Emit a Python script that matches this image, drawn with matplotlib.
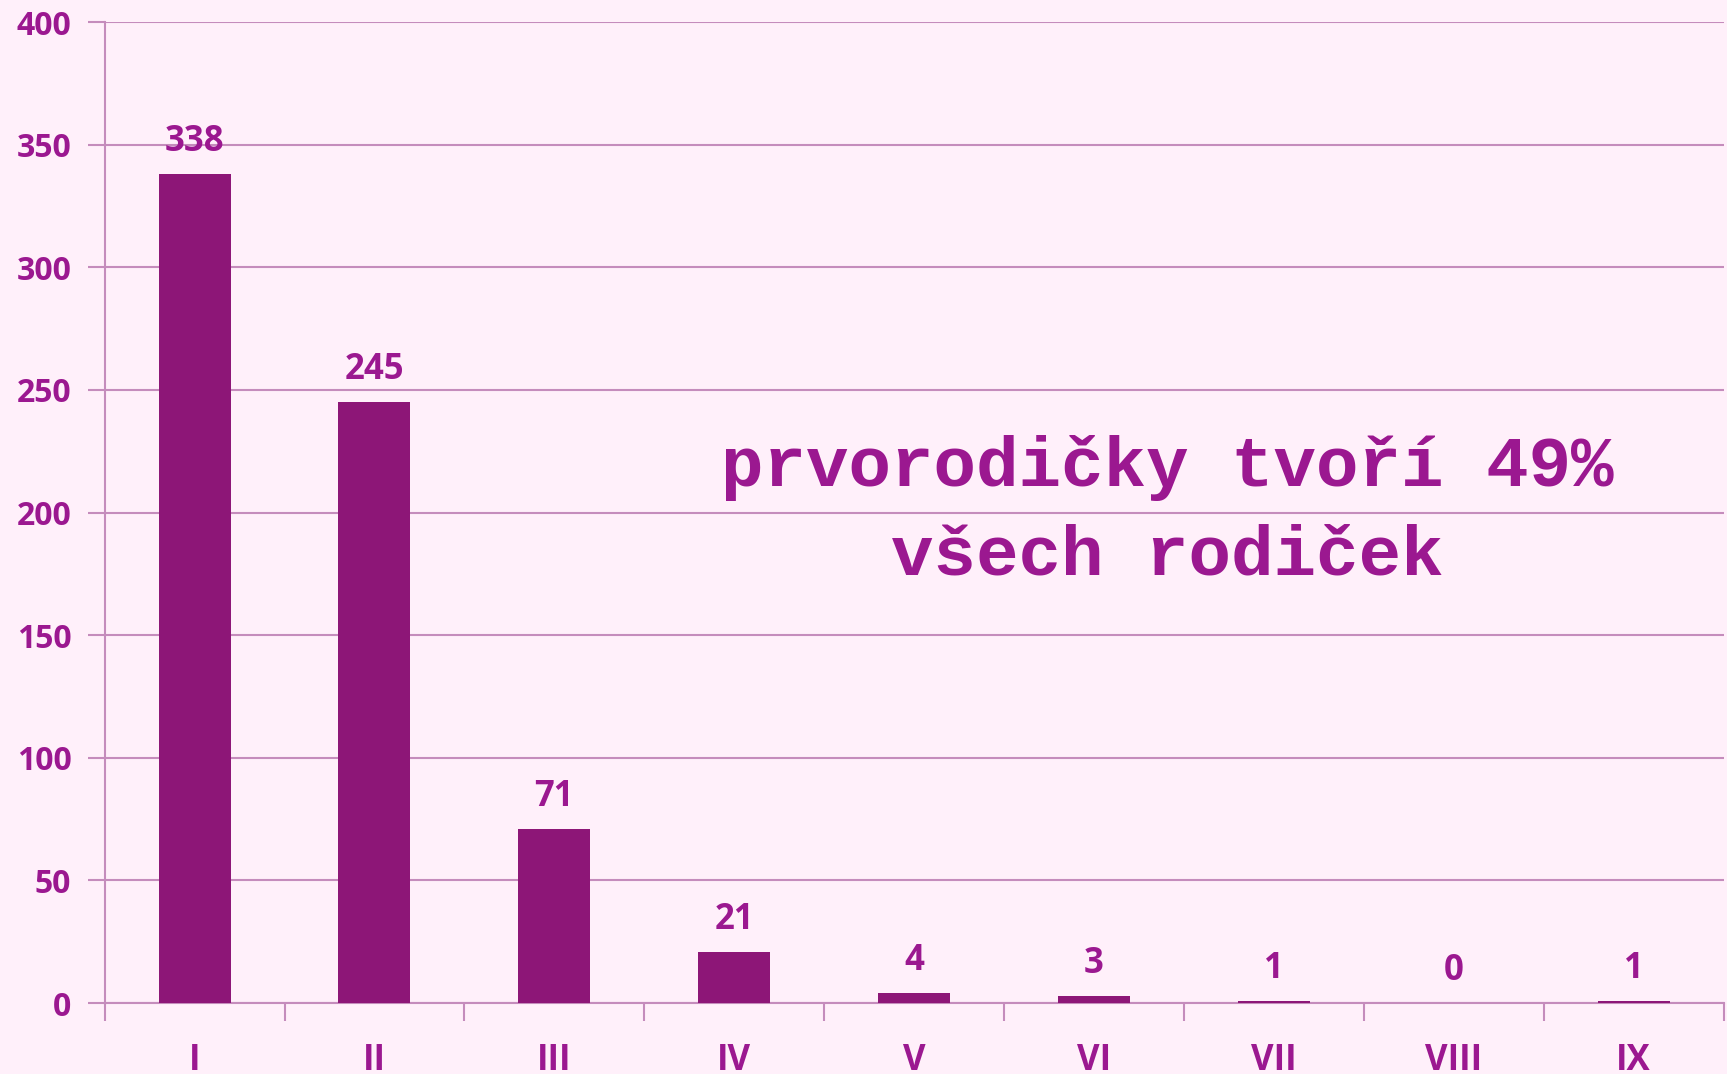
import numpy as np
import matplotlib
import matplotlib.pyplot as plt
from matplotlib.ticker import FixedLocator

# ── data ────────────────────────────────────────────────────
categories = ['I', 'II', 'III', 'IV', 'V', 'VI', 'VII', 'VIII', 'IX']
counts     = [338, 245, 71, 21, 4, 3, 1, 0, 1]
y_ticks    = [0, 50, 100, 150, 200, 250, 300, 350, 400]
note_text  = 'prvorodičky tvoří 49%\nvšech rodiček'

BG      = '#FFF0FA'
BAR     = '#8D1677'
TXT     = '#9B1890'
GRID    = '#C58CBC'

matplotlib.rcParams['font.family'] = ['Open Sans', 'DejaVu Sans']

fig = plt.figure(figsize=(17.27, 10.74), dpi=100, facecolor=BG)
ax = fig.add_axes([0.0606, 0.0661, 0.9374, 0.9134], facecolor=BG)

x = np.arange(len(categories))
ax.bar(x, counts, width=0.4, color=BAR, zorder=3)

ax.set_xlim(-0.5, len(categories) - 0.5)
ax.set_ylim(0, 400)

# gridlines
ax.set_yticks(y_ticks)
ax.yaxis.grid(True, color=GRID, lw=1.5, zorder=0)
ax.tick_params(axis='y', length=12, width=1.5, color=GRID, pad=12,
               labelsize=23, labelcolor=TXT)
for lab in ax.get_yticklabels():
    lab.set_fontweight('bold')

# x ticks: labels at centers, tick marks at boundaries
ax.set_xticks(x)
ax.set_xticklabels(categories, fontsize=25, fontweight='bold', color=TXT)
ax.tick_params(axis='x', which='major', length=0, pad=29)
ax.xaxis.set_minor_locator(FixedLocator(np.arange(-0.5, len(categories), 1.0)))
ax.tick_params(axis='x', which='minor', length=13, width=1.5, color=GRID)

for side in ['top', 'right']:
    ax.spines[side].set_visible(False)
for side in ['left', 'bottom']:
    ax.spines[side].set_color(GRID)
    ax.spines[side].set_linewidth(1.5)

# value labels
for xi, v in zip(x, counts):
    ax.annotate(str(v), (xi, v), xytext=(0, 10), textcoords='offset points',
                ha='center', va='bottom', fontsize=25, fontweight='bold',
                color=TXT)

ax.text(5.41, 200, note_text, ha='center', va='center',
        fontsize=51, fontweight='bold', color=TXT,
        family=['Liberation Mono', 'DejaVu Sans Mono'],
        linespacing=1.45)

fig.savefig('out.png', dpi=100, facecolor=BG)
